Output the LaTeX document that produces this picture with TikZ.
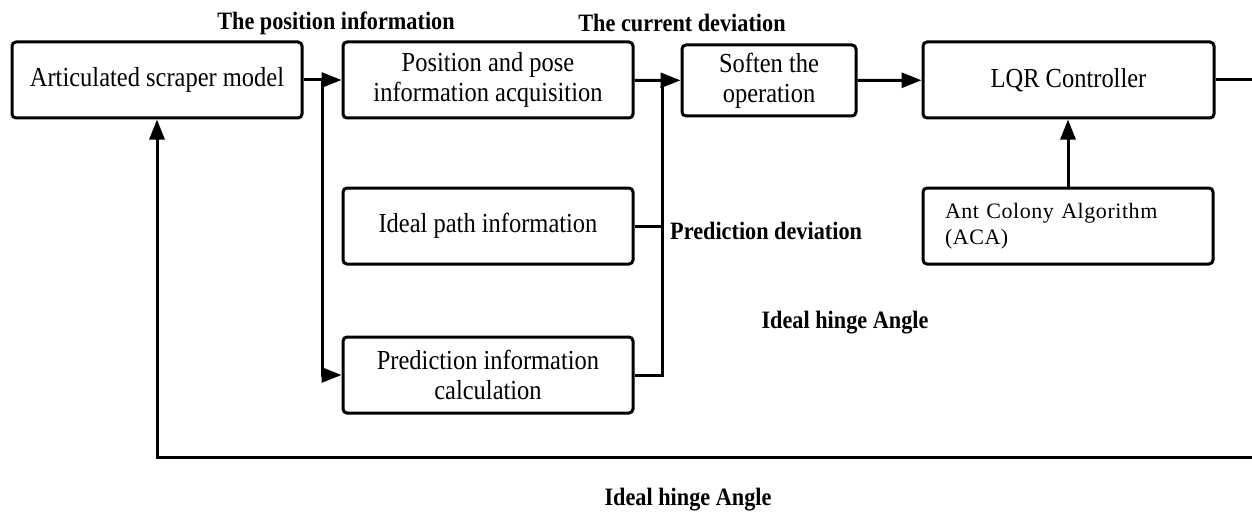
\documentclass[tikz,border=0pt]{standalone}
\usepackage{fontspec}
\setmainfont{Liberation Serif}[FakeStretch=0.89]
\newfontfamily\acafont{Liberation Serif}[LetterSpace=2.5]
\usetikzlibrary{arrows.meta}
\begin{document}
\begin{tikzpicture}[x=1pt,y=-1pt,
  blk/.style={draw, line width=3pt, rounded corners=4pt,
    minimum width=290pt, minimum height=76pt, inner sep=0pt,
    align=center, font=\fontsize{27.5}{30}\selectfont},
  wire/.style={line width=3pt},
  arr/.style={wire, -{Triangle[length=20pt,width=15pt]}},
  lbl/.style={font=\bfseries\fontsize{25}{28}\selectfont, inner sep=0pt}]
\path[use as bounding box] (0,0) rectangle (1252,516);

% blocks
\node[blk] (model) at (157,80) {Articulated scraper model};
\node[blk] (pose) at (488,80) {Position and pose\\information acquisition};
\node[blk, minimum width=174pt, minimum height=71pt] (soft) at (769,80.5) {Soften the\\operation};
\node[blk, minimum width=291pt] (lqr) at (1068.5,80) {LQR Controller};
\node[blk] (path) at (488,226) {Ideal path information};
\node[blk, text width=246pt, inner xsep=22pt, align=left,
      font=\acafont\fontsize{22}{26}\selectfont] (aca) at (1068,226)
      {Ant Colony Algorithm\\(ACA)};
\node[blk] (pred) at (488,375) {Prediction information\\calculation};

% branch points and free ends
\coordinate (s1) at (322,80);
\coordinate (s2) at (662,80);
\coordinate (out) at (1252,80);
\coordinate (fb) at (1252,457);

% connectors
\draw[arr] (model) -- (pose);
\draw[arr] (s1) |- (pred.west);
\draw[arr] (pose) -- (soft);
\draw[wire] (pred.east) -| (s2);
\draw[wire] (path.east) -- (path.east -| s2);
\draw[arr] (soft) -- (lqr);
\draw[arr] (aca.north) -- (aca.north |- lqr.south);
\draw[wire] (lqr.east) -- (out);
\draw[arr] (fb) -| (model.south);

% signal labels
\node[lbl] (posinfo) at (336,23) {The position information};
\node[lbl] (curdev) at (682,23) {The current deviation};
\node[lbl, anchor=west] (preddev) at (670,231) {Prediction deviation};
\node[lbl] (hinge1) at (845,323) {Ideal hinge Angle};
\node[lbl] (hinge2) at (688,500) {Ideal hinge Angle};
\end{tikzpicture}
\end{document}
